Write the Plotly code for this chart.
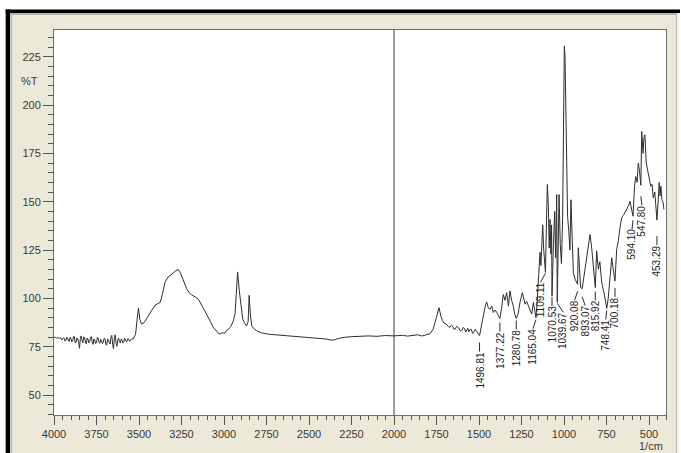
import plotly.graph_objects as go

# ---------------------------------------------------------------------------
# IR spectrum: wavenumber (1/cm) vs transmittance (%T)
# ---------------------------------------------------------------------------

# 4000-3530 noisy baseline, sampled every 5 1/cm
wn_baseline = list(range(4000, 3529, -5))
t_baseline = [79.8, 80.1, 79.6, 79.3, 79.9, 79.4, 79.2, 79.7, 79.5, 78.6,
              78.8, 79.6, 79.4, 77.9, 78.3, 79.8, 79.6, 78.0, 77.8, 79.9,
              79.2, 77.5, 78.1, 80.4, 80.2, 76.9, 77.4, 79.6, 79.0, 77.2,
              74.2, 79.3, 80.6, 78.1, 77.0, 80.1, 79.8, 77.4, 76.5, 79.5,
              78.9, 77.0, 77.6, 79.8, 80.3, 77.5, 76.2, 79.0, 78.4, 76.6,
              77.1, 79.8, 79.5, 77.2, 76.8, 78.8, 78.2, 76.6, 77.5, 79.4,
              79.1, 76.3, 75.8, 79.0, 78.6, 77.1, 76.4, 80.0, 80.9, 76.2,
              74.0, 79.5, 81.2, 77.0, 75.2, 78.4, 79.4, 77.6, 76.9, 79.0,
              78.7, 77.0, 77.3, 79.4, 79.0, 77.6, 77.9, 79.2, 78.8, 77.8,
              78.2, 79.0, 79.3, 78.9, 79.6]

# 3520-2550 O-H / C-H stretching region
wn_stretch = [3520, 3510, 3503, 3495, 3485, 3470, 3450, 3435, 3420, 3405,
              3390, 3375, 3360, 3347, 3329, 3310, 3290, 3270, 3260, 3249,
              3235, 3220, 3205, 3190, 3170, 3151, 3125, 3102, 3080, 3063,
              3045, 3027, 3010, 2995, 2985, 2974, 2960, 2945, 2935, 2928,
              2920, 2910, 2900, 2890, 2878, 2867, 2858, 2852, 2845, 2837,
              2820, 2808, 2780, 2740, 2700, 2671, 2630, 2594, 2550]
t_stretch = [81.5, 90.0, 95.0, 89.0, 86.7, 87.5, 90.5, 93.0, 94.5, 96.5,
             97.3, 98.0, 103.0, 108.4, 111.0, 112.5, 113.8, 115.0, 113.8, 111.6,
             108.0, 105.0, 103.0, 101.8, 100.8, 99.6, 95.5, 91.9, 88.0, 85.0,
             83.0, 81.5, 82.3, 82.0, 83.5, 84.0, 85.5, 88.4, 92.0, 100.0,
             113.7, 104.0, 95.0, 89.3, 87.0, 85.8, 88.0, 101.6, 92.0, 85.8,
             84.0, 83.3, 82.2, 81.5, 81.2, 81.0, 80.8, 80.4, 80.2]

# 2500-1500 flat region with carbonyl band
wn_mid = [2500, 2450, 2400, 2370, 2350, 2330, 2300, 2250, 2200, 2150,
          2100, 2050, 2000, 1950, 1920, 1900, 1880, 1860, 1840, 1820,
          1805, 1790, 1770, 1755, 1745, 1735, 1725, 1715, 1705, 1690,
          1680, 1671, 1662, 1655, 1647, 1640, 1630, 1620, 1610, 1600,
          1592, 1585, 1578, 1573, 1566, 1560, 1552, 1545, 1538, 1530,
          1522, 1515, 1509, 1504]
t_mid = [80.0, 79.5, 79.0, 78.4, 78.6, 79.2, 79.8, 80.2, 80.4, 80.6,
         80.4, 80.8, 80.6, 80.9, 80.5, 80.7, 81.1, 81.2, 80.6, 80.8,
         81.4, 81.5, 84.0, 89.0, 93.0, 95.2, 91.0, 88.5, 87.2, 86.5,
         85.4, 85.0, 86.2, 85.5, 84.0, 84.2, 85.6, 84.8, 83.2, 83.5,
         85.0, 84.5, 82.6, 83.6, 84.6, 82.8, 83.9, 84.0, 81.9, 82.5,
         84.1, 83.2, 82.0, 81.5]

# 1500-400 fingerprint region
wn_finger = [1490, 1484, 1470, 1462, 1455, 1445, 1435, 1425, 1416, 1405,
             1396, 1388, 1367, 1357, 1347, 1337, 1327, 1318, 1308, 1298,
             1290, 1270, 1259, 1245, 1237, 1229, 1220, 1210, 1200, 1190,
             1180, 1171, 1158, 1151, 1146, 1141, 1136, 1131, 1125, 1120,
             1115, 1103, 1098, 1092, 1087, 1082, 1077, 1073, 1062, 1055,
             1049, 1043, 1034, 1029, 1022, 1015, 1008, 1003, 998, 994,
             989, 984, 979, 972, 965, 959, 952, 945, 935, 925,
             916, 909, 902, 885, 877, 867, 857, 847, 837, 827,
             808, 798, 789, 778, 765, 755, 740, 729, 719, 712,
             706, 690, 680, 670, 661, 650, 640, 631, 620, 612,
             602, 585, 578, 570, 563, 556, 550, 543, 535, 530,
             524, 516, 508, 500, 490, 482, 475, 466, 460, 445,
             440, 435, 430, 424, 418, 412]
t_finger = [84.0, 87.6, 93.0, 96.5, 98.2, 95.0, 94.4, 96.0, 92.7, 94.0,
            92.8, 91.0, 95.0, 102.0, 99.0, 103.0, 96.0, 103.9, 99.0, 96.0,
            92.0, 92.0, 97.9, 103.0, 99.0, 97.0, 98.5, 96.0, 94.0, 91.9,
            97.9, 93.0, 98.0, 110.0, 118.0, 123.8, 117.0, 129.0, 138.0, 126.0,
            118.0, 140.0, 158.9, 148.0, 126.0, 140.8, 123.0, 138.0, 128.0, 145.0,
            121.0, 153.7, 125.0, 153.7, 128.0, 118.0, 142.0, 188.0, 230.5, 225.0,
            187.0, 160.0, 142.5, 135.0, 125.0, 151.0, 130.0, 113.3, 110.0, 108.0,
            126.2, 115.0, 105.6, 110.0, 114.0, 118.5, 126.0, 133.0, 126.0, 115.0,
            124.6, 115.0, 119.0, 108.2, 103.0, 97.0, 100.0, 110.0, 121.0, 116.0,
            110.5, 125.4, 130.0, 137.0, 141.7, 143.0, 144.5, 146.0, 148.0, 150.3,
            146.0, 158.0, 163.0, 160.0, 170.0, 166.0, 161.0, 186.4, 175.0, 183.0,
            184.6, 170.0, 166.0, 162.0, 158.0, 159.0, 152.0, 155.0, 148.0, 152.0,
            160.0, 153.0, 158.0, 151.0, 150.0, 146.0]

# Picked band minima (labelled on the chart)
peak_wn = [1496.81, 1377.22, 1280.78, 1165.04, 1109.11, 1070.53, 1039.67,
           920.08, 893.07, 815.92, 748.41, 700.18, 594.10, 547.80, 453.29]
peak_t = [80.8, 89.6, 89.6, 90.0, 113.5, 101.3, 98.0,
          107.3, 105.0, 105.6, 94.8, 109.0, 142.5, 158.5, 140.5]

# Axis ticks
x_tickvals = [4000, 3750, 3500, 3250, 3000, 2750, 2500, 2250, 2000,
              1750, 1500, 1250, 1000, 750, 500]
y_tickvals = [50, 75, 100, 125, 150, 175, 200, 225]

# Merge all points (including the picked minima) into one sorted spectrum
pairs = (list(zip(wn_baseline, t_baseline)) + list(zip(wn_stretch, t_stretch))
         + list(zip(wn_mid, t_mid)) + list(zip(wn_finger, t_finger))
         + list(zip(peak_wn, peak_t)))
pairs.sort(key=lambda p: -p[0])
wavenumber = [p[0] for p in pairs]
transmittance = [p[1] for p in pairs]

# ---------------------------------------------------------------------------
W, H = 681, 453
ML, MR, MT, MB = 54, 15, 30, 38
PW, PH = W - ML - MR, H - MT - MB


def px(x):
    return (x - ML) / PW


def py(y):
    return (H - MB - y) / PH


BEIGE = "#ECE9D8"
TICK = "#555555"
TXT = "#3a3a3a"
FONT = "Liberation Sans, Arial, sans-serif"

fig = go.Figure()
fig.add_trace(go.Scatter(
    x=wavenumber, y=transmittance, mode="lines",
    line=dict(color="#2e2e2e", width=1), hoverinfo="skip", showlegend=False))

shapes = []


def rect(x0, y0, x1, y1, color):
    shapes.append(dict(type="rect", xref="paper", yref="paper",
                       x0=px(x0), x1=px(x1), y0=py(y0), y1=py(y1),
                       fillcolor=color, line=dict(width=0), layer="above"))


# window frame around the chart panel
rect(0, 0, W, 9.5, "white")
rect(0, 0, 5.7, H, "white")
rect(680, 0, W, H, "white")
rect(5.7, 9.5, 680, 13.3, "black")
rect(5.7, 9.5, 10, H, "black")
rect(10.5, 13.3, 676, 15, "#b8b5a6")
rect(10.5, 13.3, 12, H, "#b8b5a6")
rect(676, 13.3, 677, H, "#b8b5a6")
rect(677, 13.3, 680, H, "#f7f6f0")

# vertical marker at 2000 1/cm
shapes.append(dict(type="line", xref="x", yref="paper", x0=2000, x1=2000,
                   y0=0, y1=1, line=dict(color="#7a7a7a", width=1.5),
                   layer="below"))

# peak-label placement: drop below the minimum and sideways nudge (pixels)
label_drop = [7, 4, 2, 2, 1, 1, 1, 7, 8, 4, 2, 7, 4, 11, 16]
label_nudge = [0, 0, 0, -3, -5, 0, 6, -3, 3, 0, -1, 0, -1, 1, 0]
LEAD = 9

annotations = []
for wn, t, drop, nudge in zip(peak_wn, peak_t, label_drop, label_nudge):
    shapes.append(dict(type="line", xref="x", yref="y",
                       xsizemode="pixel", xanchor=wn,
                       ysizemode="pixel", yanchor=t,
                       x0=0, x1=nudge, y0=-drop, y1=-drop - LEAD,
                       line=dict(color="#2a2a2a", width=1)))
    annotations.append(dict(x=wn, y=t, xref="x", yref="y", text=f"{wn:.2f}",
                            textangle=-90, showarrow=False, xanchor="center",
                            yanchor="top", xshift=nudge,
                            yshift=-(drop + LEAD) + 2,
                            font=dict(size=10, color="#222222", family=FONT)))

annotations.append(dict(x=px(40), y=212.5, xref="paper", yref="y", text="%T",
                        showarrow=False, xanchor="right", yanchor="middle",
                        font=dict(size=11, color=TXT, family=FONT)))
annotations.append(dict(x=px(665), y=py(446), xref="paper", yref="paper",
                        text="1/cm", showarrow=False, xanchor="right",
                        yanchor="middle",
                        font=dict(size=11, color=TXT, family=FONT)))

fig.update_layout(
    width=W, height=H,
    margin=dict(l=ML, r=MR, t=MT, b=MB, pad=0),
    paper_bgcolor=BEIGE, plot_bgcolor="white",
    font=dict(family=FONT, size=11, color=TXT),
    shapes=shapes, annotations=annotations, showlegend=False,
    xaxis=dict(range=[4000, 400], tickmode="array", tickvals=x_tickvals,
               ticks="outside", ticklen=9, tickcolor=TICK, tickwidth=1,
               showgrid=False, zeroline=False, showline=True, mirror=True,
               linecolor="#6e6e6e", linewidth=1,
               minor=dict(dtick=50, tick0=0, ticklen=4, ticks="outside",
                          tickcolor=TICK, showgrid=False),
               tickfont=dict(size=11, color=TXT, family=FONT)),
    yaxis=dict(range=[39.7, 238.8], tickmode="array", tickvals=y_tickvals,
               ticks="outside", ticklen=10, tickcolor=TICK, tickwidth=1,
               showgrid=False, zeroline=False, showline=True, mirror=True,
               linecolor="#6e6e6e", linewidth=1,
               minor=dict(dtick=5, tick0=0, ticklen=5, ticks="outside",
                          tickcolor=TICK, showgrid=False),
               tickfont=dict(size=11, color=TXT, family=FONT)),
)

fig.write_html("out.html")
